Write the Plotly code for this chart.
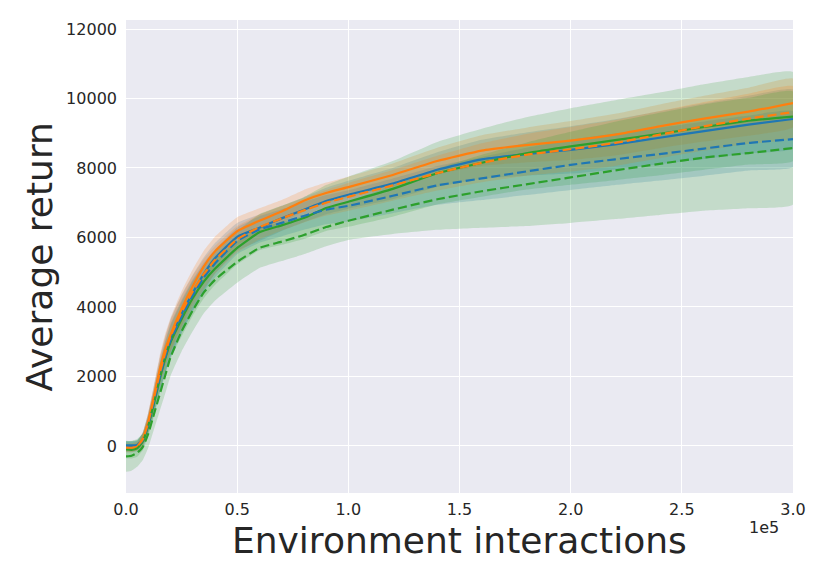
import numpy as np
import plotly.graph_objects as go

# x in units of 1e5 environment interactions
steps = [0, 0.025, 0.05, 0.075, 0.1, 0.125, 0.15, 0.175, 0.2, 0.25, 0.3, 0.35, 0.4, 0.5,
         0.6, 0.7, 0.8, 0.9, 1.0, 1.2, 1.4, 1.6, 1.8, 2.0, 2.2, 2.4, 2.6, 2.8, 3.0]

blue_solid = [20, 20, 30, 180, 650, 1300, 2000, 2600, 3100, 3800, 4400, 4950, 5400, 6020,
              6280, 6550, 6800, 7050, 7230, 7550, 7950, 8250, 8400, 8520, 8680, 8870, 9060, 9250, 9410]
orange_solid = [-60, -60, -20, 200, 700, 1400, 2150, 2750, 3200, 3950, 4600, 5170, 5600, 6180,
                6480, 6750, 7060, 7280, 7450, 7800, 8200, 8500, 8660, 8790, 8960, 9200, 9420, 9620, 9870]
green_solid = [-100, -110, -70, 120, 580, 1200, 1880, 2480, 2980, 3650, 4250, 4730, 5100, 5700,
               6150, 6350, 6560, 6850, 7030, 7400, 7850, 8150, 8420, 8620, 8800, 8980, 9180, 9360, 9480]
blue_dashed = [-30, -30, 0, 160, 620, 1250, 1930, 2530, 3030, 3720, 4330, 4850, 5250, 5900,
               6230, 6420, 6620, 6800, 6910, 7200, 7500, 7700, 7900, 8090, 8250, 8400, 8560, 8720, 8830]
orange_dashed = [-50, -50, -10, 190, 680, 1350, 2050, 2650, 3150, 3850, 4450, 4950, 5350, 5950,
                 6300, 6550, 6780, 7000, 7170, 7500, 7850, 8150, 8380, 8540, 8720, 8960, 9200, 9420, 9610]
green_dashed = [-300, -280, -200, -30, 350, 900, 1450, 2000, 2550, 3300, 3900, 4420, 4780, 5300,
                5700, 5880, 6070, 6300, 6480, 6800, 7100, 7330, 7530, 7730, 7930, 8120, 8300, 8430, 8575]

# spread (standard deviation) of each run group
blue_solid_sd = [120, 120, 130, 200, 300, 400, 480, 520, 540, 550, 520, 480, 440, 400,
                 380, 360, 360, 380, 400, 450, 500, 560, 620, 680, 720, 760, 800, 830, 850]
orange_solid_sd = [100, 100, 110, 180, 260, 330, 400, 450, 480, 500, 480, 450, 420, 400,
                   360, 330, 310, 300, 300, 330, 380, 440, 500, 560, 600, 630, 660, 690, 700]
green_solid_sd = [250, 250, 240, 250, 300, 360, 420, 460, 480, 500, 500, 480, 470, 480,
                  520, 560, 600, 660, 720, 800, 900, 980, 1040, 1100, 1150, 1190, 1230, 1260, 1280]
blue_dashed_sd = [150, 150, 150, 200, 280, 350, 420, 460, 480, 480, 460, 430, 400, 380,
                  380, 390, 400, 420, 450, 500, 560, 620, 680, 720, 740, 760, 780, 790, 800]
orange_dashed_sd = [130, 130, 130, 190, 270, 340, 400, 440, 460, 470, 450, 430, 400, 380,
                    360, 350, 350, 370, 400, 440, 500, 560, 600, 640, 660, 680, 700, 720, 740]
green_dashed_sd = [440, 430, 400, 380, 400, 440, 480, 520, 540, 580, 600, 600, 600, 600,
                   580, 560, 550, 550, 550, 700, 880, 1050, 1200, 1310, 1400, 1470, 1530, 1590, 1625]

xticks = [0.0, 0.5, 1.0, 1.5, 2.0, 2.5, 3.0]
xtick_labels = ["0.0", "0.5", "1.0", "1.5", "2.0", "2.5", "3.0"]
yticks = [0, 2000, 4000, 6000, 8000, 10000, 12000]
ytick_labels = ["0", "2000", "4000", "6000", "8000", "10000", "12000"]

BLUE, ORANGE, GREEN = "#1f77b4", "#ff7f0e", "#2ca02c"
BAND = {BLUE: "rgba(31,119,180,0.2)", ORANGE: "rgba(255,127,14,0.2)", GREEN: "rgba(44,160,44,0.2)"}
DASH = "9px,4px"

series = [
    (blue_solid, blue_solid_sd, BLUE, "solid"),
    (orange_solid, orange_solid_sd, ORANGE, "solid"),
    (green_solid, green_solid_sd, GREEN, "solid"),
    (blue_dashed, blue_dashed_sd, BLUE, DASH),
    (orange_dashed, orange_dashed_sd, ORANGE, DASH),
    (green_dashed, green_dashed_sd, GREEN, DASH),
]

fig = go.Figure()
x = np.array(steps)
for mean, sd, col, dash in series:
    m = np.array(mean, dtype=float)
    s = np.array(sd, dtype=float)
    fig.add_trace(go.Scatter(
        x=np.concatenate([x, x[::-1]]),
        y=np.concatenate([m + s, (m - s)[::-1]]),
        fill="toself", fillcolor=BAND[col], line=dict(width=0, shape="spline", smoothing=0.4),
        mode="lines", hoverinfo="skip", showlegend=False))
for mean, sd, col, dash in series:
    fig.add_trace(go.Scatter(
        x=steps, y=mean, mode="lines",
        line=dict(color=col, width=2.2, dash=dash, shape="spline", smoothing=0.4),
        showlegend=False))

tickfont = dict(family="DejaVu Sans", size=16, color="#262626")
fig.update_layout(
    width=830, height=581,
    margin=dict(l=118, r=45, t=12, b=96),
    paper_bgcolor="white", plot_bgcolor="#EAEAF2",
    xaxis=dict(range=[0, 3.0], tickvals=xticks, ticktext=xtick_labels, showgrid=True,
               gridcolor="white", gridwidth=1.3, zeroline=False, showline=False, ticks="",
               tickfont=tickfont, ticklabelstandoff=5),
    yaxis=dict(range=[-1353, 12259], tickvals=yticks, ticktext=ytick_labels, showgrid=True,
               gridcolor="white", gridwidth=1.3, zeroline=False, showline=False, ticks="",
               tickfont=tickfont, ticklabelstandoff=8),
    annotations=[
        dict(text="Environment interactions", xref="paper", yref="paper", x=0.5, y=-0.101,
             xanchor="center", yanchor="middle", showarrow=False,
             font=dict(family="DejaVu Sans", size=36, color="#262626")),
        dict(text="Average return", xref="paper", yref="paper", x=-0.129, y=0.5,
             xanchor="center", yanchor="middle", textangle=-90, showarrow=False,
             font=dict(family="DejaVu Sans", size=36, color="#262626")),
        dict(text="1e5", xref="paper", yref="paper", x=0.982, y=-0.072,
             xanchor="right", yanchor="middle", showarrow=False,
             font=dict(family="DejaVu Sans", size=16, color="#262626")),
    ],
)

fig.write_html("out.html")
